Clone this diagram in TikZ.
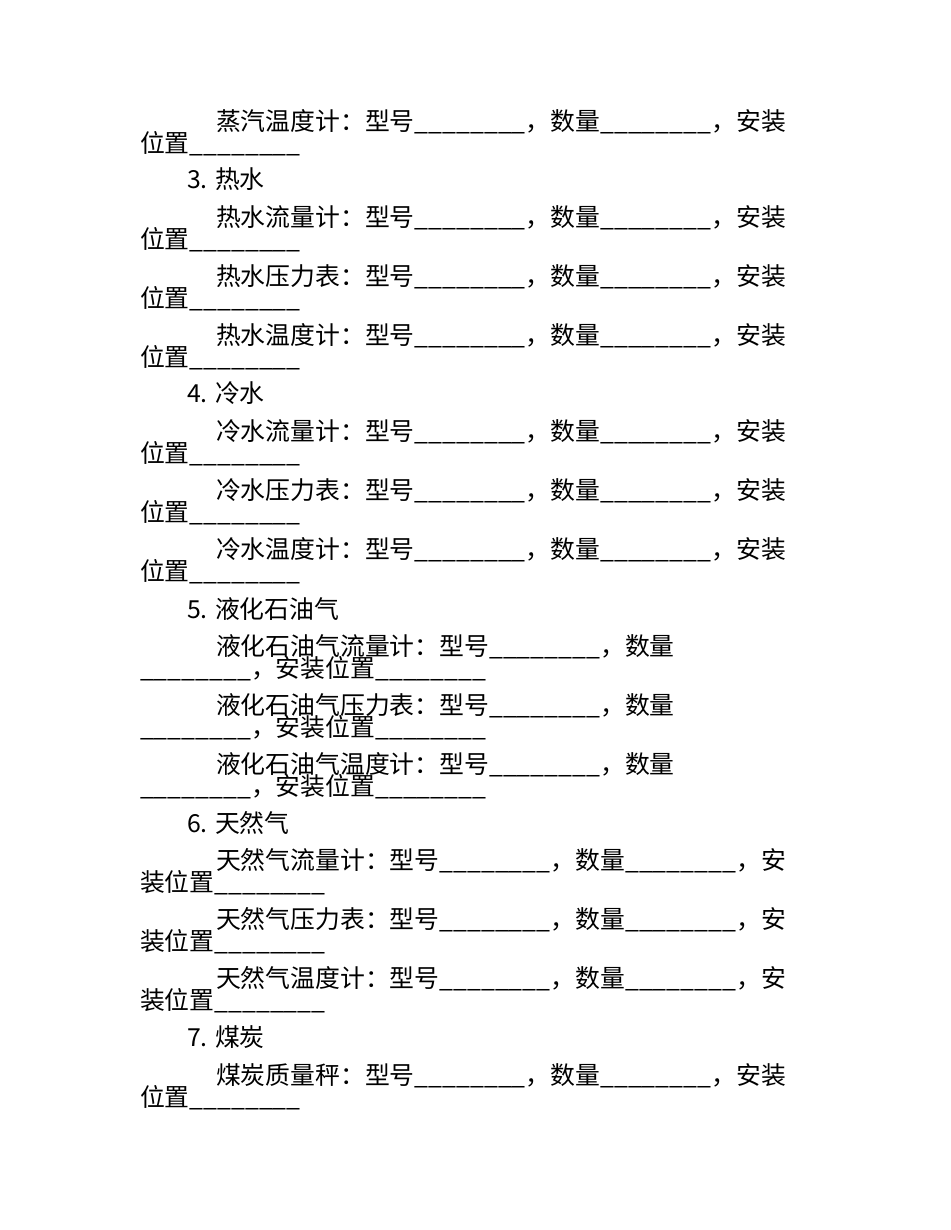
\documentclass[tikz,border=0pt]{standalone}
\usepackage{fontspec}
\newfontfamily\cjk{Noto Sans CJK SC}
\newcommand{\blank}{\_\_\_\_\_\_\_\_}
\tikzset{
  txt/.style={anchor=base west,inner sep=0pt,outer sep=0pt,font=\cjk\fontsize{16}{16}\selectfont},
}
\begin{document}
\begin{tikzpicture}[x=0.6442pt,y=-0.6442pt]
        \useasboundingbox (0,0) rectangle (950,1230);
        % steam
        \node[txt] (s3a) at (216,130) {蒸汽温度计：型号\blank，数量\blank，安装};
        \node[txt] (s3b) at (140,152) {位置\blank};
        % hot water
        \node[txt] (hw) at (187,188) {3. 热水};
        \node[txt] (hw1a) at (216,226) {热水流量计：型号\blank，数量\blank，安装};
        \node[txt] (hw1b) at (140,248) {位置\blank};
        \node[txt] (hw2a) at (216,285) {热水压力表：型号\blank，数量\blank，安装};
        \node[txt] (hw2b) at (140,307) {位置\blank};
        \node[txt] (hw3a) at (216,344) {热水温度计：型号\blank，数量\blank，安装};
        \node[txt] (hw3b) at (140,366) {位置\blank};
        % cold water
        \node[txt] (cw) at (187,402) {4. 冷水};
        \node[txt] (cw1a) at (216,440) {冷水流量计：型号\blank，数量\blank，安装};
        \node[txt] (cw1b) at (140,462) {位置\blank};
        \node[txt] (cw2a) at (216,499) {冷水压力表：型号\blank，数量\blank，安装};
        \node[txt] (cw2b) at (140,521) {位置\blank};
        \node[txt] (cw3a) at (216,558) {冷水温度计：型号\blank，数量\blank，安装};
        \node[txt] (cw3b) at (140,580) {位置\blank};
        % lpg
        \node[txt] (lpg) at (187,618) {5. 液化石油气};
        \node[txt] (lpg1a) at (216,655) {液化石油气流量计：型号\blank，数量};
        \node[txt] (lpg1b) at (140,677) {\blank，安装位置\blank};
        \node[txt] (lpg2a) at (216,714) {液化石油气压力表：型号\blank，数量};
        \node[txt] (lpg2b) at (140,736) {\blank，安装位置\blank};
        \node[txt] (lpg3a) at (216,773) {液化石油气温度计：型号\blank，数量};
        \node[txt] (lpg3b) at (140,795) {\blank，安装位置\blank};
        % natural gas
        \node[txt] (ng) at (187,832) {6. 天然气};
        \node[txt] (ng1a) at (216,869) {天然气流量计：型号\blank，数量\blank，安};
        \node[txt] (ng1b) at (140,891) {装位置\blank};
        \node[txt] (ng2a) at (216,928) {天然气压力表：型号\blank，数量\blank，安};
        \node[txt] (ng2b) at (140,950) {装位置\blank};
        \node[txt] (ng3a) at (216,987) {天然气温度计：型号\blank，数量\blank，安};
        \node[txt] (ng3b) at (140,1009) {装位置\blank};
        % coal
        \node[txt] (cl) at (187,1046) {7. 煤炭};
        \node[txt] (cl1a) at (216,1084) {煤炭质量秤：型号\blank，数量\blank，安装};
        \node[txt] (cl1b) at (140,1106) {位置\blank};
\end{tikzpicture}
\end{document}
